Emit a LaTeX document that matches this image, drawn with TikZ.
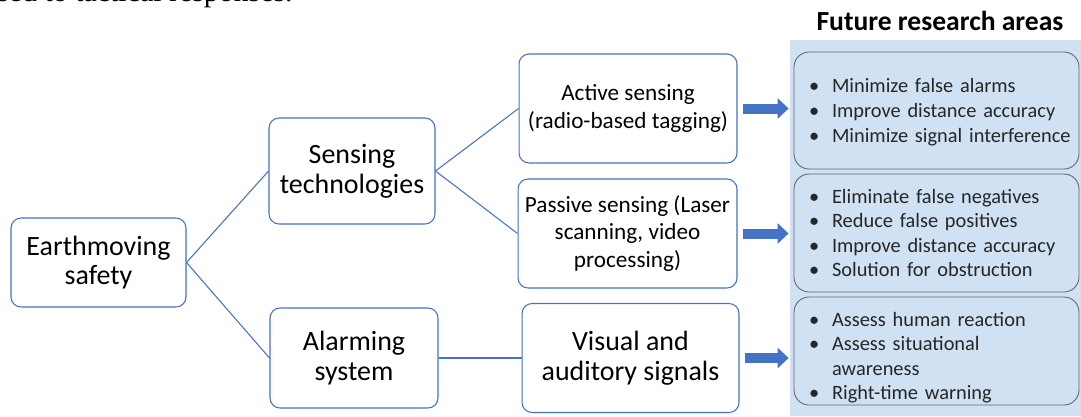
\documentclass[tikz,border=0pt]{standalone}
\usepackage{fontspec}
\setmainfont{Carlito}
\newfontfamily\paperfont{Liberation Serif}
\usetikzlibrary{arrows.meta}
\definecolor{officeblue}{RGB}{68,114,196}
\definecolor{panelblue}{RGB}{207,225,242}
\definecolor{panelgrey}{RGB}{95,105,115}
\newcommand{\fitem}[1]{\makebox[0.46cm][l]{\textbullet}#1}
\newcommand{\flist}[2]{\raisebox{#1}[\height][\depth]{\begin{tabular}{@{}l@{}}#2\end{tabular}}}
\tikzset{
  box/.style={draw=officeblue, line width=0.6pt, rounded corners=0.2cm, fill=white, align=center, inner sep=2pt},
  bigtxt/.style={font=\fontsize{15.9}{17}\selectfont},
  midtxt/.style={font=\fontsize{13.2}{15.4}\selectfont},
  link/.style={draw=officeblue, line width=0.6pt},
  fatarrow/.style={draw=officeblue, line width=0.2cm, -{Triangle[length=0.22cm,width=0.4cm]}},
  futbox/.style={draw=panelgrey, line width=0.5pt, rounded corners=0.3cm, text width=5.1cm, inner xsep=0.3cm, inner ysep=0pt, align=left, font=\fontsize{11.6}{14}\selectfont, text=black!85}
}
\begin{document}
\begin{tikzpicture}[x=0.02cm, y=-0.02cm]
		%%%%% START %%%%%
		\clip (0, 0) rectangle (1081, 416);
		
		% cut-off line of the page above
		\node[font=\paperfont\fontsize{17}{19}\selectfont, anchor=base west, inner sep=0] (cut) at (-3, 1) {sed to tactical responses.};
		
		% right panel
		\fill[panelblue] (790, 40) rectangle (1081, 416);
		\node[font=\bfseries\fontsize{15.7}{18}\selectfont] (title) at (940, 21) {Future research areas};
		
		\node[futbox, minimum height=2.34cm] (fut1) at (936.5, 110.5) {\flist{-0.04cm}{\fitem{Minimize false alarms}\\ \fitem{Improve distance accuracy}\\ \fitem{Minimize signal interference}}};
		\node[futbox, minimum height=2.36cm] (fut2) at (936.5, 233) {\flist{-0.04cm}{\fitem{Eliminate false negatives}\\ \fitem{Reduce false positives}\\ \fitem{Improve distance accuracy}\\ \fitem{Solution for obstruction}}};
		\node[futbox, minimum height=2.16cm] (fut3) at (936.5, 351) {\flist{-0.14cm}{\fitem{Assess human reaction}\\ \fitem{Assess situational}\\ \hspace*{0.46cm}awareness\\ \fitem{Right-time warning}}};
		
		% tree
		\node[box, bigtxt, minimum width=3.5cm, minimum height=1.78cm] (earth) at (98.5, 262.5) {Earthmoving\\safety};
		\node[box, bigtxt, minimum width=3.32cm, minimum height=2.12cm] (sensing) at (352, 171) {Sensing\\technologies};
		\node[box, bigtxt, minimum width=3.36cm, minimum height=2.0cm] (alarm) at (354, 358) {Alarming\\system};
		\node[box, midtxt, minimum width=4.36cm, minimum height=2.18cm] (active) at (628, 108.5) {Active sensing\\(radio-based tagging)};
		\node[box, midtxt, minimum width=4.38cm, minimum height=2.18cm] (passive) at (627.5, 233.5) {Passive sensing (Laser\\scanning, video\\processing)};
		\node[box, bigtxt, minimum width=4.34cm, minimum height=2.18cm] (visual) at (630.5, 358) {Visual and\\auditory signals};
		
		\draw[link] (earth.east) -- (sensing.west);
		\draw[link] (earth.east) -- (alarm.west);
		\draw[link] (sensing.east) -- (active.west);
		\draw[link] (sensing.east) -- (passive.west);
		\draw[link] (alarm.east) -- (visual.west);
		
		\draw[fatarrow] ([xshift=0.1cm]active.east) -- ([xshift=-0.1cm]fut1.west |- active.east);
		\draw[fatarrow] ([xshift=0.1cm]passive.east) -- ([xshift=-0.1cm]fut2.west |- passive.east);
		\draw[fatarrow] ([xshift=0.1cm]visual.east) -- ([xshift=-0.1cm]fut3.west |- visual.east);
		
		%%%%% END %%%%%
\end{tikzpicture}
\end{document}
